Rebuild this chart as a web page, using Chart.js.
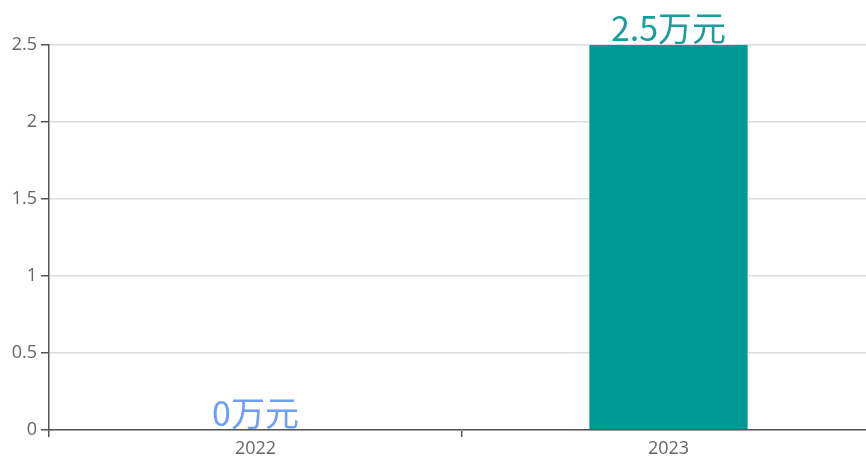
<!DOCTYPE html>
<html>
<head>
<meta charset="utf-8">
<script src="https://cdn.jsdelivr.net/npm/chart.js@4/dist/chart.umd.min.js"></script>
<style>
  html, body { margin: 0; padding: 0; background: #fff; overflow: hidden; }
  #wrap { width: 880px; height: 461px; }
</style>
</head>
<body>
<div id="wrap"><canvas id="grafica"></canvas></div>
<script>
let anios = ["2022", "2023"];
let montos = [0, 2.5];
let unidad = "万元";
let coloresEtiqueta = ["#6e9ef8", "#1a9e9a"];
let ticksY = [0, 0.5, 1, 1.5, 2, 2.5];

// etiquetas encima de cada barra
const etiquetas = {
    id: "etiquetas",
    afterDatasetsDraw(chart) {
        let ctx = chart.ctx;
        let meta = chart.getDatasetMeta(0);
        ctx.save();
        ctx.font = "34px 'Noto Sans CJK SC', sans-serif";
        ctx.textAlign = "center";
        ctx.textBaseline = "bottom";
        meta.data.forEach((bar, i) => {
            ctx.fillStyle = coloresEtiqueta[i];
            ctx.fillText(montos[i] + unidad, bar.x, bar.y);
        });
        ctx.restore();
    }
};

let ctx = document.getElementById("grafica").getContext("2d");
new Chart(ctx, {
    type: "bar",
    data: {
        labels: anios,
        datasets: [{
            data: montos,
            backgroundColor: "#009996",
            borderColor: "#5cbfbb",
            borderWidth: { left: 1, right: 1, top: 0, bottom: 0 },
            borderSkipped: false,
            categoryPercentage: 1,
            barPercentage: 0.385
        }]
    },
    options: {
        responsive: true,
        maintainAspectRatio: false,
        animation: false,
        layout: { padding: { top: 45, right: 5, left: 0, bottom: 0 } },
        plugins: { legend: { display: false }, tooltip: { enabled: false } },
        scales: {
            x: {
                offset: true,
                afterFit: s => { s.height = 31; },
                border: { color: "#555", width: 1.5 },
                grid: { offset: true, drawOnChartArea: false, tickLength: 7, color: "#555", lineWidth: 1.5 },
                ticks: { color: "#666", font: { size: 18, family: "'Open Sans', sans-serif" }, padding: 1 }
            },
            y: {
                min: 0,
                max: 2.5,
                afterFit: s => { s.width = 49; },
                afterBuildTicks: s => { s.ticks = ticksY.map(v => ({ value: v })); },
                border: { color: "#555", width: 1.5 },
                grid: { color: "#dcdcdc", tickColor: "#555", tickLength: 8, lineWidth: 1.5 },
                ticks: {
                    color: "#666",
                    font: { size: 18, family: "'Open Sans', sans-serif" },
                    padding: 4,
                    callback: v => String(v)
                }
            }
        }
    },
    plugins: [etiquetas]
});
</script>
</body>
</html>
